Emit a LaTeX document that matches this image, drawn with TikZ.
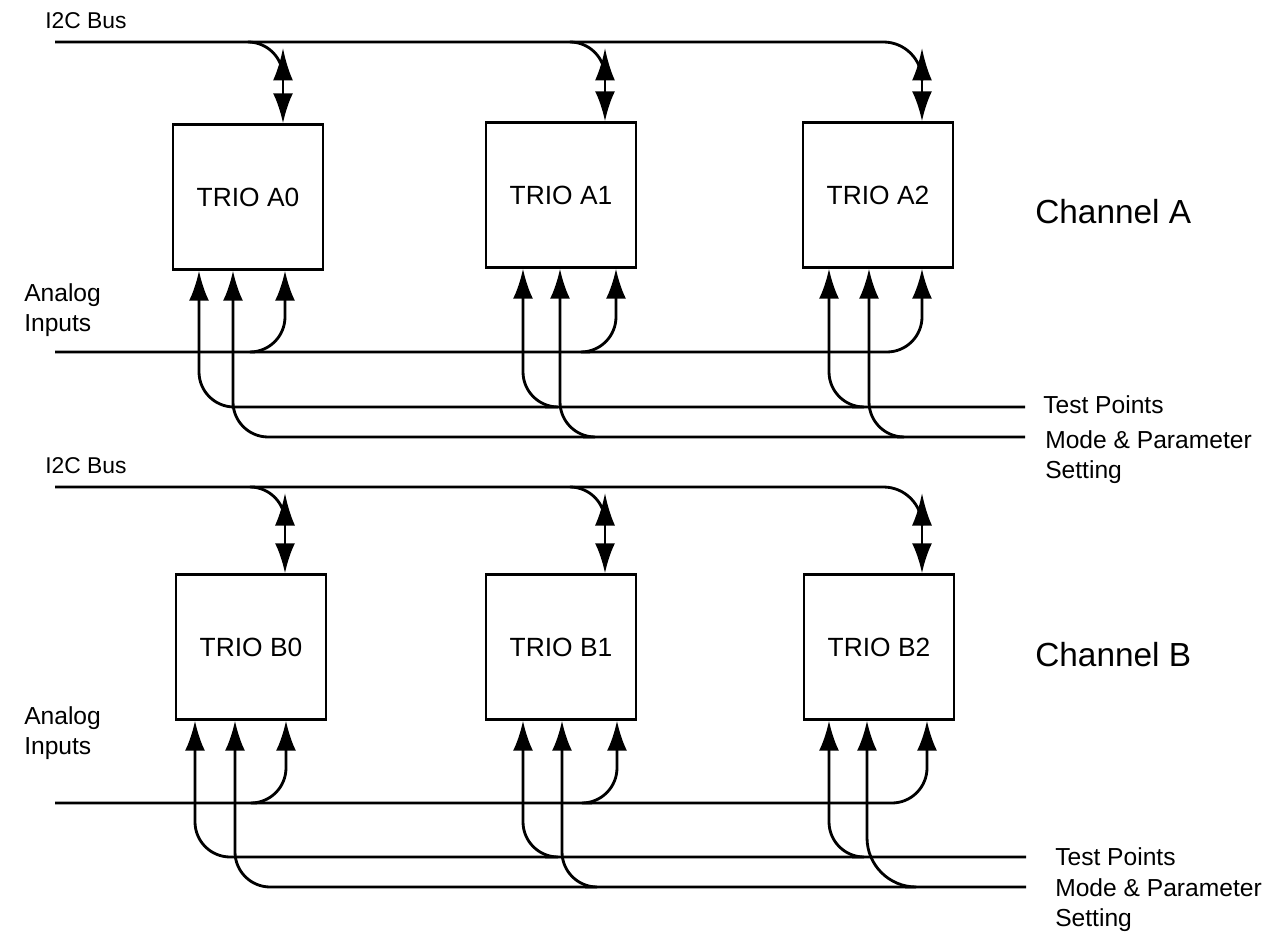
\documentclass[tikz,border=0pt]{standalone}
\usepackage{fontspec}
\setmainfont{Liberation Sans}
\usetikzlibrary{arrows.meta}

\begin{document}
\begin{tikzpicture}[x=0.2mm,y=-0.2mm, line width=1.6pt,
  trio/.style={draw, line width=1.4pt, minimum width=30mm, minimum height=29mm, font=\fontsize{15}{17}\selectfont},
  sig/.style={-{Latex[length=6mm,width=4mm]}, rounded corners=20},
  dsig/.style={{Latex[length=6.5mm,width=4mm]}-{Latex[length=6mm,width=4mm]}},
  lbl/.style={font=\fontsize{14}{17}\selectfont, align=left, anchor=west}
]
\useasboundingbox (0,0) rectangle (1268,937);

% channel A
\node[trio] (a0) at (248,197) {TRIO A0};
\node[trio] (a1) at (561,195) {TRIO A1};
\node[trio] (a2) at (878,195) {TRIO A2};
\node[font=\fontsize{19}{22}\selectfont, anchor=west] (chA) at (1028,212) {Channel A};

\coordinate (busA) at (55,42);
\coordinate (anaA) at (55,352);
\coordinate (testA) at (1025,407);
\coordinate (modeA) at (1025,437);

\node[lbl, font=\fontsize{13}{15}\selectfont] (busAlbl) at (38,21) {I2C Bus};
\node[lbl] (anaAlbl) at (17,310) {Analog\\Inputs};
\node[lbl] (testAlbl) at (1036,405) {Test Points};
\node[lbl] (modeAlbl) at (1038,457) {Mode \& Parameter\\Setting};

\draw[rounded corners=22] (busA) -| (922,80);
\draw[rounded corners=20] (250,42) -| (283,80);
\draw[rounded corners=20] (570,42) -| (605,80);
\draw[dsig] (283,48) -- (283,0 |- a0.north);
\draw[dsig] (605,48) -- (605,0 |- a1.north);
\draw[dsig] (922,48) -- (922,0 |- a2.north);

\draw[sig] (anaA) -| (922,0 |- a2.south);
\draw[sig] (255,352) -| (285,0 |- a0.south);
\draw[sig] (590,352) -| (616,0 |- a1.south);

\draw[sig] (testA) -| (199,0 |- a0.south);
\draw[sig] (545,407) -| (523,0 |- a1.south);
\draw[sig] (852,407) -| (829,0 |- a2.south);

\draw[sig] (modeA) -| (233,0 |- a0.south);
\draw[sig] (583,437) -| (560,0 |- a1.south);
\draw[sig] (897,437) -| (869,0 |- a2.south);

% channel B
\node[trio] (b0) at (251,647) {TRIO B0};
\node[trio] (b1) at (561,647) {TRIO B1};
\node[trio] (b2) at (879,647) {TRIO B2};
\node[font=\fontsize{19}{22}\selectfont, anchor=west] (chB) at (1028,655) {Channel B};

\coordinate (busB) at (55,487);
\coordinate (anaB) at (55,803);
\coordinate (testB) at (1026,857);
\coordinate (modeB) at (1026,887);

\node[lbl, font=\fontsize{13}{15}\selectfont] (busBlbl) at (38,466) {I2C Bus};
\node[lbl] (anaBlbl) at (17,733) {Analog\\Inputs};
\node[lbl] (testBlbl) at (1048,857) {Test Points};
\node[lbl] (modeBlbl) at (1048,905) {Mode \& Parameter\\Setting};

\draw[rounded corners=22] (busB) -| (922,525);
\draw[rounded corners=20] (255,487) -| (285,525);
\draw[rounded corners=20] (570,487) -| (605,525);
\draw[dsig] (285,493) -- (285,0 |- b0.north);
\draw[dsig] (605,493) -- (605,0 |- b1.north);
\draw[dsig] (922,493) -- (922,0 |- b2.north);

\draw[sig] (anaB) -| (927,0 |- b2.south);
\draw[sig] (257,803) -| (286,0 |- b0.south);
\draw[sig] (592,803) -| (617,0 |- b1.south);

\draw[sig] (testB) -| (195,0 |- b0.south);
\draw[sig] (545,857) -| (523,0 |- b1.south);
\draw[sig] (852,857) -| (829,0 |- b2.south);

\draw[sig] (modeB) -| (235,0 |- b0.south);
\draw[sig] (585,887) -| (562,0 |- b1.south);
\draw[sig, rounded corners=28] (905,887) -| (867,0 |- b2.south);
\end{tikzpicture}
\end{document}
